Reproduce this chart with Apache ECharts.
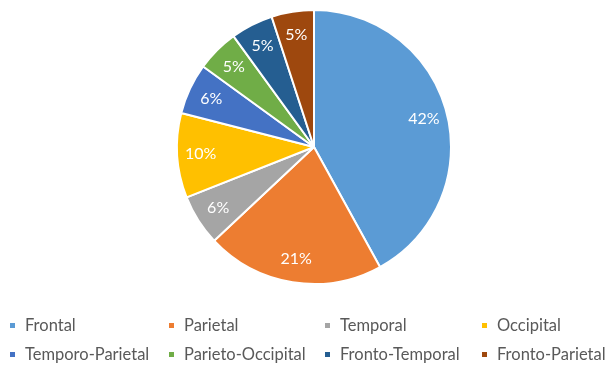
<!DOCTYPE html>
<html>
<head>
<meta charset="utf-8">
<script src="https://cdn.jsdelivr.net/npm/echarts@6/dist/echarts.min.js"></script>
<style>
html,body{margin:0;padding:0;background:#fff;}
#chart{width:611px;height:372px;}
</style>
</head>
<body>
<div id="chart"></div>
<script>
var categories = ['Frontal','Parietal','Temporal','Occipital','Temporo-Parietal','Parieto-Occipital','Fronto-Temporal','Fronto-Parietal'];
var values = [42, 21, 6, 10, 6, 5, 5, 5];
var colors = ['#5B9BD5','#ED7D31','#A5A5A5','#FFC000','#4472C4','#70AD47','#255E91','#9E480E'];

var data = categories.map(function(c, i){ return {name: c, value: values[i], itemStyle: {color: colors[i]}}; });

var legendCols = [[0,4],[1,5],[2,6],[3,7]];
var legendLefts = [8, 167, 323, 480];
var legends = legendCols.map(function(col, k){
  return {
    orient: 'vertical',
    left: legendLefts[k],
    top: 317,
    padding: 0,
    itemWidth: 7,
    itemHeight: 7,
    itemGap: 12,
    icon: 'rect',
    selectedMode: false,
    data: col.map(function(i){ return categories[i]; }),
    textStyle: {fontFamily: 'Lato', fontSize: 16.5, color: '#595959', lineHeight: 17, padding: [0,0,0,4]}
  };
});

var chart = echarts.init(document.getElementById('chart'));
chart.setOption({
  animation: false,
  legend: legends,
  series: [
    {
      type: 'pie',
      center: [314, 147],
      radius: [0, 137],
      startAngle: 90,
      clockwise: true,
      data: data,
      label: {show: false},
      labelLine: {show: false},
      itemStyle: {borderColor: '#fff', borderWidth: 2},
      emphasis: {disabled: true}
    },
    {
      type: 'pie',
      center: [314, 147],
      radius: [84, 137],
      startAngle: 90,
      clockwise: true,
      silent: true,
      data: data.map(function(d){ return {name: d.name, value: d.value, itemStyle: {color: 'rgba(0,0,0,0)'}}; }),
      itemStyle: {borderWidth: 0},
      label: {
        show: true,
        position: 'inside',
        formatter: function(p){ return p.value + '%'; },
        color: '#fff',
        fontFamily: 'Lato',
        fontSize: 16,
        textBorderWidth: 0
      },
      labelLine: {show: false},
      emphasis: {disabled: true}
    }
  ]
});
</script>
</body>
</html>
